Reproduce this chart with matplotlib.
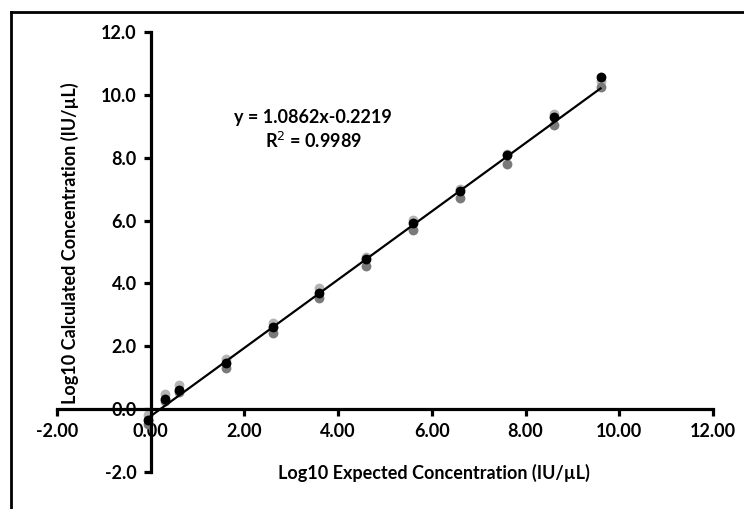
import matplotlib
matplotlib.use("Agg")
import matplotlib.pyplot as plt
from matplotlib.lines import Line2D
import numpy as np

# Data
expected = [-0.05, 0.3, 0.6, 1.6, 2.6, 3.6, 4.6, 5.6, 6.6, 7.6, 8.6, 9.6]
rep_high = [-0.20, 0.47, 0.76, 1.58, 2.75, 3.84, 4.85, 6.02, 7.02, 8.12, 9.38, 10.45]
rep_low = [-0.48, 0.25, 0.55, 1.30, 2.43, 3.53, 4.55, 5.70, 6.71, 7.81, 9.04, 10.24]
mean_vals = [-0.33, 0.31, 0.60, 1.46, 2.60, 3.70, 4.77, 5.93, 6.95, 8.09, 9.31, 10.56]
slope = 1.0862
intercept = -0.2219
r2 = 0.9989
x_ticks = [-2, 0, 2, 4, 6, 8, 10, 12]
y_ticks = [-2, 0, 2, 4, 6, 8, 10, 12]

font = "Lato"
fs = 13
W, H = 744, 509
fig = plt.figure(figsize=(W / 100, H / 100), dpi=100)
ax = fig.add_axes([57 / W, 1 - 472 / H, (713 - 57) / W, (472 - 32) / H])

ax.scatter(expected, rep_high, s=50, color="#b4b4b4", zorder=2, linewidths=0)
ax.scatter(expected, rep_low, s=50, color="#7a7a7a", zorder=2, linewidths=0)
ax.scatter(expected, mean_vals, s=50, color="black", zorder=3, linewidths=0)

xl = np.array([min(expected), max(expected)])
ax.plot(xl, slope * xl + intercept, color="black", lw=1.6, zorder=4)

ax.set_xlim(-2, 12)
ax.set_ylim(-2, 12)
ax.spines["left"].set_position(("data", 0))
ax.spines["bottom"].set_position(("data", 0))
ax.spines["top"].set_visible(False)
ax.spines["right"].set_visible(False)
for s in ("left", "bottom"):
    ax.spines[s].set_linewidth(2.3)
ax.set_xticks(x_ticks)
ax.set_yticks(y_ticks)
ax.set_xticklabels([f"{v:.2f}" for v in x_ticks], fontfamily=font, fontweight="bold", fontsize=fs)
ax.set_yticklabels([f"{v:.1f}" for v in y_ticks], fontfamily=font, fontweight="bold", fontsize=fs)
ax.tick_params(direction="out", length=5, width=2.3, pad=5)

fig.text(434 / W, 1 - 473 / H, "Log10 Expected Concentration (IU/µL)", ha="center", va="center",
         fontfamily=font, fontweight="bold", fontsize=fs)
fig.text(70 / W, 1 - 243 / H, "Log10 Calculated Concentration (IU/µL)", ha="center", va="center",
         rotation=90, fontfamily=font, fontweight="bold", fontsize=fs)

ax.text(313 / W, 1 - 118 / H, f"y = {slope}x{intercept}", transform=fig.transFigure, ha="center",
        va="center", fontfamily=font, fontweight="bold", fontsize=fs)
ax.text(313 / W, 1 - 141 / H, f"R$^2$ = {r2}", transform=fig.transFigure, ha="center",
        va="center", fontfamily=font, fontweight="bold", fontsize=fs)

# figure frame (left and top edges)
fig.add_artist(Line2D([10.5 / W, 10.5 / W], [0, 1 - 11.5 / H], transform=fig.transFigure, color="black", lw=2))
fig.add_artist(Line2D([10.5 / W, 1], [1 - 11.5 / H, 1 - 11.5 / H], transform=fig.transFigure, color="black", lw=2))

fig.savefig("out.png", dpi=100)
